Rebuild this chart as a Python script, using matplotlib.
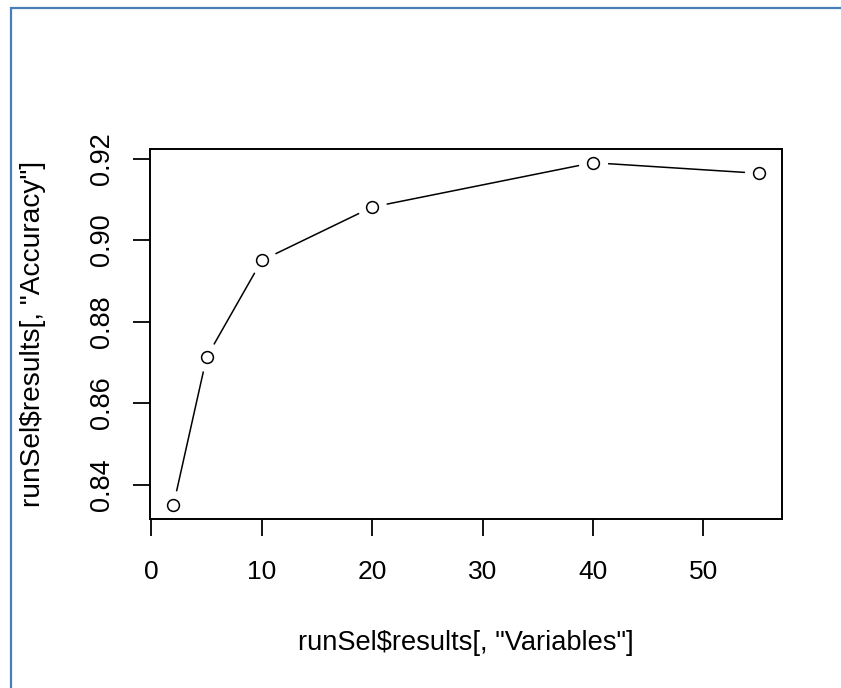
import matplotlib
matplotlib.use("Agg")
import matplotlib.pyplot as plt
from matplotlib.patches import Rectangle

# valeurs (selection de variables)
variables = [2, 5, 10, 20, 40, 55]
accuracy = [0.8349, 0.8712, 0.8950, 0.9081, 0.9190, 0.9164]
xticks = [0, 10, 20, 30, 40, 50]
yticks = [0.84, 0.86, 0.88, 0.90, 0.92]
ytick_labels = ["0.84", "0.86", "0.88", "0.90", "0.92"]

plt.rcParams['font.family'] = ['Liberation Sans', 'DejaVu Sans']

fig = plt.figure(figsize=(8.41, 6.88), dpi=100)
ax = fig.add_axes([150 / 841, 1 - 519 / 688, 632 / 841, 370 / 688])

# ligne + "trous" blancs autour des points (comme type="b" dans R)
ax.plot(variables, accuracy, color="black", lw=1.1, zorder=1)
ax.plot(variables, accuracy, ls="none", marker="o", ms=21, mfc="white",
        mec="none", zorder=2)
ax.plot(variables, accuracy, ls="none", marker="o", ms=8.5, mfc="white",
        mec="black", mew=1.1, zorder=3)

# etendue de 4% comme R
dx = (max(variables) - min(variables)) * 0.04
dy = (max(accuracy) - min(accuracy)) * 0.04
ax.set_xlim(min(variables) - dx, max(variables) + dx)
ax.set_ylim(min(accuracy) - dy, max(accuracy) + dy)

ax.set_xticks(xticks)
ax.set_xticklabels([str(v) for v in xticks], fontsize=19)
ax.set_yticks(yticks)
ax.set_yticklabels(ytick_labels, fontsize=19.5, rotation=90, va="center")
ax.tick_params(length=12, width=1.3, colors="black")
ax.tick_params(axis="x", pad=17.5)
ax.tick_params(axis="y", pad=13)

for s in ax.spines.values():
    s.set_linewidth(1.4)

ax.set_xlabel('runSel$results[, "Variables"]', fontsize=19.6, labelpad=33)
ax.set_ylabel('runSel$results[, "Accuracy"]', fontsize=20.2, labelpad=31)

# bordure bleue de la capture d'ecran
fig.patches.append(Rectangle((11 / 841, -0.1), 1.0, 1.1 - 8 / 688,
                             transform=fig.transFigure, fill=False,
                             edgecolor="#4a7ebb", lw=1.6))

fig.savefig("out.png", dpi=100)
